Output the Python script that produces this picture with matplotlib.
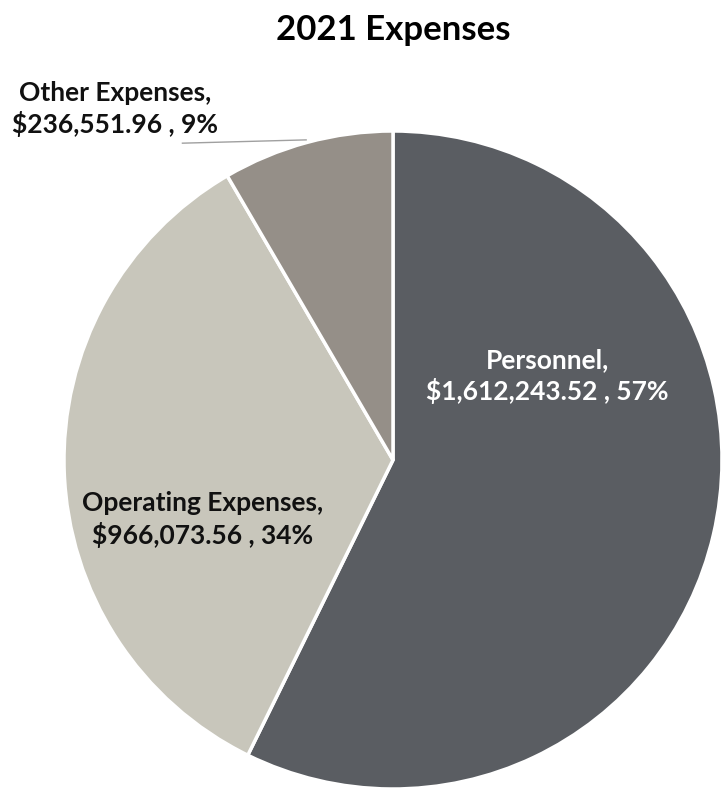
import matplotlib
matplotlib.use("Agg")
import matplotlib.pyplot as plt

categories = ["Personnel", "Operating Expenses", "Other Expenses"]
amounts = [1612243.52, 966073.56, 236551.96]
pct_labels = ["57%", "34%", "9%"]
colors = ["#5a5d62", "#c8c6bb", "#958f88"]

plt.rcParams['font.family'] = ['Lato', 'DejaVu Sans']

fig = plt.figure(figsize=(7.25, 7.92), dpi=100)
ax = fig.add_axes([64 / 725, 3 / 792, 658 / 725, 658 / 792])

ax.pie(amounts, colors=colors, startangle=90, counterclock=False,
       wedgeprops=dict(edgecolor='white', linewidth=2.5), radius=1)
ax.set_xlim(-1, 1)
ax.set_ylim(-1, 1)
ax.set_aspect('equal')
ax.axis('off')

def lab(i):
    return f"{categories[i]},\n${amounts[i]:,.2f} , {pct_labels[i]}"

ax.text(0.47, 0.255, lab(0), ha='center', va='center', color='white',
        fontsize=19, fontweight='bold', linespacing=1.3)
ax.text(-0.58, -0.18, lab(1), ha='center', va='center', color='#111111',
        fontsize=19, fontweight='bold', linespacing=1.3)
ax.text(-0.845, 1.067, lab(2), ha='center', va='center', color='#111111',
        fontsize=19, fontweight='bold', linespacing=1.3)
ax.plot([-0.64, -0.264], [0.963, 0.973], color='#a0a0a0', lw=1, clip_on=False)

fig.text(393 / 725, 1 - 30 / 792, "2021 Expenses", ha='center', va='center',
         fontsize=25, fontweight='bold')

fig.savefig("out.png", dpi=100)
